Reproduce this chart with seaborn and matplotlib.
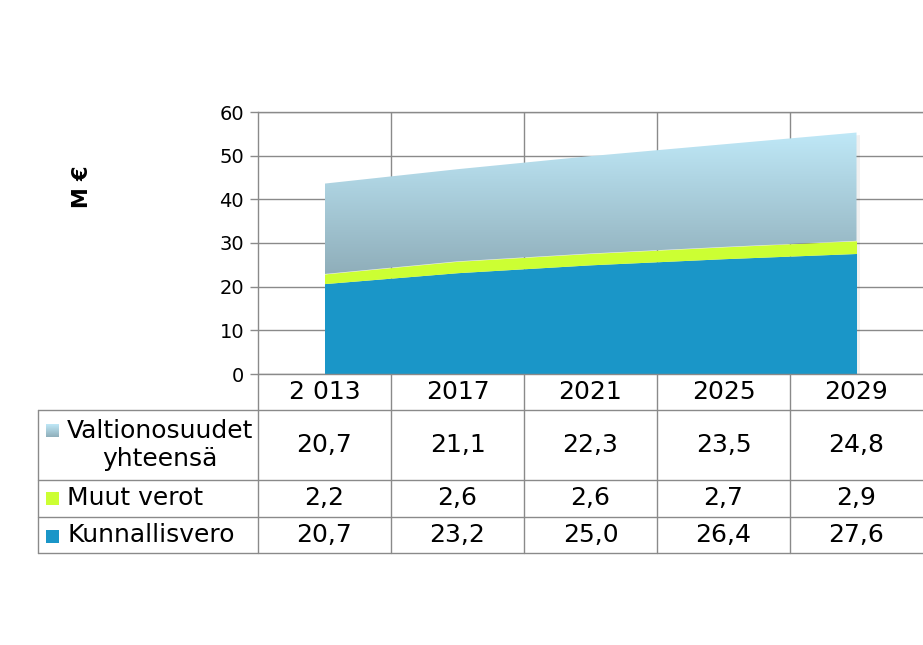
import numpy as np
import pandas as pd
import matplotlib
matplotlib.use("Agg")
import matplotlib.pyplot as plt
import seaborn as sns
from matplotlib.colors import LinearSegmentedColormap
from matplotlib.transforms import blended_transform_factory, offset_copy
from matplotlib.patches import Rectangle

# ---- data ----
years = ["2 013", "2017", "2021", "2025", "2029"]
kunnallisvero = [20.7, 23.2, 25.0, 26.4, 27.6]
muut_verot = [2.2, 2.6, 2.6, 2.7, 2.9]
valtionosuudet = [20.7, 21.1, 22.3, 23.5, 24.8]
series_names = ["Valtionosuudet\nyhteensä", "Muut verot", "Kunnallisvero"]
y_label = "M €"

df = pd.DataFrame({"year": years, "Kunnallisvero": kunnallisvero,
                   "Muut verot": muut_verot, "Valtionosuudet": valtionosuudet})

sns.set_theme(style="white")
plt.rcParams["font.family"] = ["DejaVu Sans"]
plt.rcParams["text.color"] = "black"
plt.rcParams["ytick.color"] = "black"

W, H = 923, 645
fig = plt.figure(figsize=(W / 100, H / 100), dpi=100)
fig.patch.set_facecolor("white")

L, R, T, B = 258, 923, 112, 374
ax = fig.add_axes([L / W, 1 - B / H, (R - L) / W, (B - T) / H])
ax.set_facecolor("white")

x = np.arange(len(years))
c_blue = "#1A96C8"
c_green = "#CCFF33"
grid_c = "#8A8A8A"
FS = 18

b1 = np.array(df["Kunnallisvero"])
b2 = b1 + np.array(df["Muut verot"])
b3 = b2 + np.array(df["Valtionosuudet"])

# shadow
sh = offset_copy(ax.transData, fig=fig, x=3, y=-2, units="dots")
ax.fill_between(x, 0, b3, color="#000000", alpha=0.06, lw=0, zorder=2, transform=sh)

ax.fill_between(x, 0, b1, color=c_blue, lw=0, zorder=3)
ax.fill_between(x, b1, b2, color=c_green, lw=0, zorder=3)
poly = ax.fill_between(x, b2, b3, color="none", lw=0, zorder=3)
cmap = LinearSegmentedColormap.from_list("g", ["#8FAEBA", "#BFE8F7"])
grad = np.linspace(0, 1, 256).reshape(-1, 1)
im = ax.imshow(grad, extent=[0, len(years) - 1, b2.min(), b3.max()], origin="lower",
               aspect="auto", cmap=cmap, zorder=3, interpolation="bicubic")
im.set_clip_path(poly.get_paths()[0], transform=ax.transData)

ax.set_xlim(-0.5, len(years) - 0.5)
ax.set_ylim(0, 60)
ax.set_yticks(np.arange(0, 61, 10))
ax.set_xticks([])
ax.set_xticks(np.arange(0.5, len(years) - 0.5, 1), minor=True)
ax.grid(True, which="major", axis="y", color=grid_c, lw=1.0, zorder=1)
ax.grid(True, which="minor", axis="x", color=grid_c, lw=1.0, zorder=1)
ax.axhline(0, color=grid_c, lw=1.0, zorder=4, clip_on=False)
ax.axhline(60, color=grid_c, lw=1.0, zorder=1, clip_on=False)
ax.tick_params(axis="y", which="major", direction="out", length=6, width=1.0,
               color=grid_c, labelsize=14, labelcolor="black", pad=4, left=True)
ax.tick_params(axis="x", which="minor", length=0)
for s in ["top", "right", "bottom"]:
    ax.spines[s].set_visible(False)
ax.spines["left"].set_color(grid_c)
ax.spines["left"].set_linewidth(1.0)

fig.text(82 / W, 1 - 187 / H, y_label, rotation=90, fontsize=15, fontweight="bold",
         ha="center", va="center", color="black")

# ---- data table ----
tr = blended_transform_factory(ax.transData, fig.transFigure)
fy = lambda py: 1 - py / H
fx = lambda px: px / W

for e in np.arange(-0.5, len(years) - 0.5, 1):
    ax.plot([e, e], [fy(B), fy(553)], color=grid_c, lw=1.0, transform=tr, clip_on=False)
fig.add_artist(plt.Line2D([fx(38), fx(38)], [fy(410), fy(553)], color=grid_c, lw=1.0))
for py in [410, 480, 517, 553]:
    fig.add_artist(plt.Line2D([fx(38), fx(923)], [fy(py), fy(py)], color=grid_c, lw=1.0))

for i, yr in enumerate(years):
    ax.text(i, fy(392), yr, transform=tr, ha="center", va="center", fontsize=FS, color="black")

rows = [(valtionosuudet, 445), (muut_verot, 498), (kunnallisvero, 535)]
for vals, cy in rows:
    for i, v in enumerate(vals):
        ax.text(i, fy(cy), f"{v:.1f}".replace(".", ","), transform=tr,
                ha="center", va="center", fontsize=FS, color="black")

sw = 13
sax = fig.add_axes([fx(46), fy(437), sw / W, sw / H])
sax.imshow(grad, cmap=cmap, origin="lower", aspect="auto", extent=[0, 1, 0, 1])
sax.set_axis_off()
fig.add_artist(Rectangle((fx(46), fy(505)), sw / W, sw / H, color=c_green, lw=0))
fig.add_artist(Rectangle((fx(46), fy(543)), sw / W, sw / H, color=c_blue, lw=0))

line1, line2 = series_names[0].split("\n")
fig.text(fx(67), fy(431), line1, ha="left", va="center", fontsize=FS, color="black")
fig.text(fx(160), fy(459), line2, ha="center", va="center", fontsize=FS, color="black")
fig.text(fx(67), fy(498), series_names[1], ha="left", va="center", fontsize=FS, color="black")
fig.text(fx(67), fy(535), series_names[2], ha="left", va="center", fontsize=FS, color="black")

fig.savefig("out.png", dpi=100, facecolor="white")
